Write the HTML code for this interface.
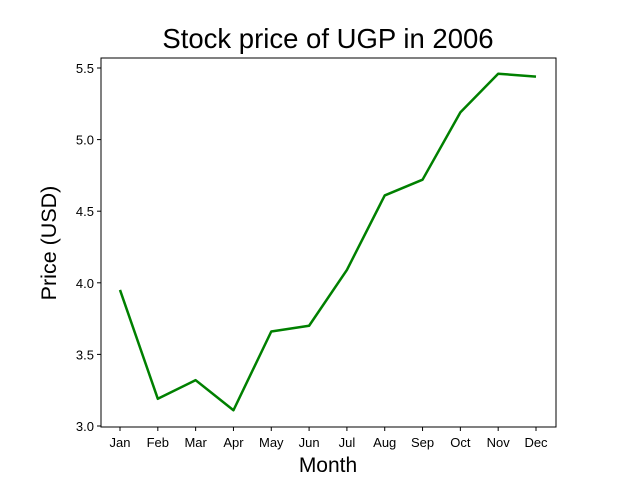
<!DOCTYPE html>
<html><head><meta charset="utf-8"><style>
body{margin:0;background:#fff;font-family:"Liberation Sans",sans-serif}
</style></head><body>
<svg width="640" height="480" xmlns="http://www.w3.org/2000/svg" font-family="Liberation Sans, sans-serif">
<rect width="640" height="480" fill="#fff"/>
<text x="328" y="48" text-anchor="middle" font-size="27.5">Stock price of UGP in 2006</text>
<g id="axes"></g>
<text x="328" y="472" text-anchor="middle" font-size="21">Month</text>
<text transform="translate(56,243) rotate(-90)" text-anchor="middle" font-size="21.5">Price (USD)</text>
</svg>
<script>
const months=["Jan","Feb","Mar","Apr","May","Jun","Jul","Aug","Sep","Oct","Nov","Dec"];
const prices=[3.95,3.19,3.32,3.11,3.66,3.70,4.09,4.61,4.72,5.19,5.46,5.44];
const yTicks=[3.0,3.5,4.0,4.5,5.0,5.5];
const L=101,R=556,T=58,B=427;
function xs(i){return 120+i*(536-120)/11;}
function ys(v){return 426-(v-3.0)*(426-68)/2.5;}
const ns="http://www.w3.org/2000/svg";
const g=document.getElementById('axes');
function mk(t,a){const e=document.createElementNS(ns,t);for(const k in a)e.setAttribute(k,a[k]);g.appendChild(e);return e;}
yTicks.forEach(v=>{
 const y=ys(v);
 const tk=mk('line',{x1:L-4,x2:L,y1:y,y2:y,stroke:'#000'});
 
 
 const t=mk('text',{x:L-7,y:y+5,'text-anchor':'end','font-size':'13'});
 t.textContent=v.toFixed(1);
 
 
});
months.forEach((m,i)=>{
 const x=xs(i);
 const tk=mk('line',{x1:x,x2:x,y1:B,y2:B+4,stroke:'#000'});
 
 
 const t=mk('text',{x:x,y:B+20,'text-anchor':'middle','font-size':'13'});
 t.textContent=m;
 
 
});
const line=mk('polyline',{points:prices.map((v,i)=>xs(i)+','+ys(v)).join(' '),fill:'none',stroke:'#008000','stroke-width':'2.5','stroke-linejoin':'round'});


const fr=mk('rect',{x:L,y:T,width:R-L,height:B-T,fill:'none',stroke:'#000','stroke-width':'1'});


</script>
</body></html>
